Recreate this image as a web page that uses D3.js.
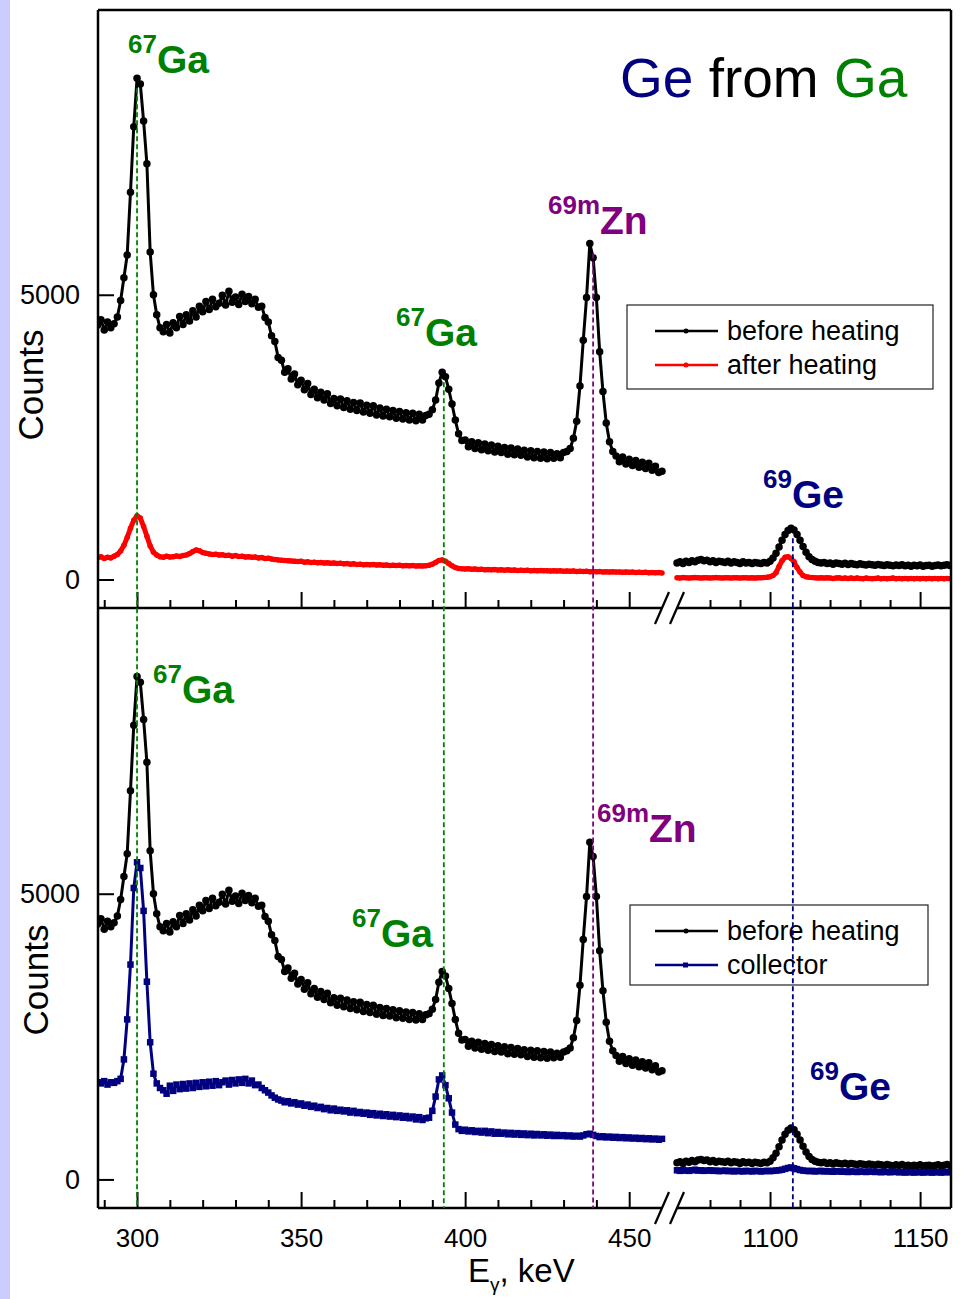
<!DOCTYPE html>
<html>
<head>
<meta charset="utf-8">
<script src="https://cdn.jsdelivr.net/npm/d3@7"></script>
<style>
  body { margin: 0; background: #fff; }
  svg { display: block; font-family: "Liberation Sans", Arial, sans-serif; }
</style>
</head>
<body>
<div id="chart"></div>
<script>
// Energy of the first channel of each window (keV), one channel per keV
const leftStart = 288;
const rightStart = 1069;

// "before heating" spectrum, 288..460 keV
const beforeLeft = [
  4470, 4560, 4380, 4520, 4420, 4490, 4610, 4900, 5300, 5700,
  6800, 7950, 8800, 8700, 8050, 7300, 5750, 5000, 4650, 4420,
  4350, 4480, 4330, 4510, 4420, 4620, 4480, 4650, 4540, 4720,
  4610, 4800, 4700, 4880, 4740, 4920, 4790, 4850, 4990, 4820,
  5060, 4870, 4960, 4830, 5010, 4880, 4970, 4840, 4920, 4780,
  4800, 4600, 4520, 4280, 4180, 3900, 3850, 3640, 3700, 3520,
  3610, 3420, 3500, 3330, 3440, 3250, 3340, 3190, 3290, 3150,
  3260, 3090, 3180, 3050, 3170, 3020, 3140, 2990, 3110, 2970,
  3100, 2940, 3060, 2920, 3050, 2890, 3010, 2870, 2990, 2860,
  2970, 2830, 2950, 2820, 2930, 2800, 2920, 2790, 2900, 2800,
  2880, 2900, 2980, 3150, 3450, 3640, 3560, 3340, 3080, 2800,
  2560, 2440, 2450, 2330, 2420, 2300, 2400, 2280, 2380, 2260,
  2360, 2240, 2340, 2230, 2320, 2200, 2310, 2190, 2290, 2180,
  2270, 2150, 2260, 2140, 2250, 2130, 2240, 2120, 2230, 2130,
  2210, 2140, 2230, 2250, 2300, 2480, 2780, 3400, 4200, 4950,
  5900, 5650, 4950, 4000, 3300, 2750, 2420, 2250, 2170, 2070,
  2150, 2030, 2110, 2000, 2090, 1970, 2060, 1950, 2040, 1920,
  1990, 1880, 1900
];

// "after heating" spectrum, 288..460 keV
const afterLeft = [
  380, 400, 370, 390, 380, 410, 440, 500, 600, 740,
  900, 1040, 1120, 1080, 930, 760, 590, 480, 430, 400,
  390, 410, 395, 400, 415, 405, 420, 430, 455, 490,
  520, 505, 475, 460, 450, 440, 445, 430, 435, 420,
  425, 410, 420, 405, 410, 395, 400, 390, 395, 380,
  385, 370, 375, 360, 350, 345, 340, 335, 330, 325,
  320, 315, 320, 305, 310, 300, 305, 295, 300, 290,
  295, 285, 290, 280, 285, 275, 280, 270, 275, 265,
  270, 260, 265, 258, 262, 255, 258, 250, 255, 248,
  252, 245, 250, 243, 247, 240, 245, 238, 242, 236,
  240, 250, 270, 300, 335, 345, 320, 280, 240, 210,
  195, 190, 185, 190, 180, 185, 175, 180, 172, 176,
  170, 174, 168, 172, 165, 170, 163, 167, 160, 165,
  158, 162, 156, 160, 154, 158, 152, 156, 150, 154,
  148, 152, 146, 150, 144, 148, 142, 146, 140, 144,
  138, 142, 136, 140, 134, 138, 132, 136, 130, 134,
  128, 132, 126, 130, 124, 128, 122, 126, 120, 124,
  118, 122, 115
];

// "collector" spectrum, 288..460 keV
const collectorLeft = [
  1700, 1680, 1720, 1660, 1700, 1690, 1720, 1760, 2100, 2800,
  3760, 5100, 5550, 5450, 4700, 3460, 2400, 1850, 1680, 1600,
  1560, 1500, 1640, 1550, 1660, 1580, 1670, 1590, 1680, 1600,
  1690, 1620, 1700, 1630, 1710, 1640, 1720, 1650, 1700, 1730,
  1660, 1740, 1680, 1750, 1690, 1760, 1680, 1730, 1650, 1660,
  1600, 1560, 1520, 1470, 1430, 1400, 1380, 1350, 1370, 1330,
  1350, 1310, 1330, 1290, 1310, 1270, 1290, 1250, 1270, 1230,
  1250, 1210, 1240, 1200, 1220, 1190, 1210, 1170, 1200, 1160,
  1180, 1150, 1170, 1130, 1160, 1120, 1150, 1110, 1140, 1100,
  1130, 1090, 1120, 1080, 1110, 1070, 1100, 1050, 1090, 1040,
  1070, 1080, 1200, 1450, 1750, 1820, 1650, 1420, 1170, 960,
  880, 850, 870, 840, 860, 830, 850, 820, 850, 810,
  840, 800, 830, 800, 820, 790, 815, 785, 810, 780,
  805, 775, 800, 770, 795, 770, 790, 765, 785, 760,
  780, 760, 775, 755, 770, 750, 765, 750, 770, 790,
  800, 780, 760, 740, 755, 735, 750, 730, 745, 725,
  740, 720, 735, 715, 730, 710, 725, 705, 720, 700,
  715, 695, 710
];

// high-energy window, 1069..1160 keV
const beforeRight = [
  290, 310, 280, 320, 300, 330, 310, 340, 350, 330,
  340, 310, 330, 300, 320, 310, 300, 320, 290, 310,
  300, 280, 310, 290, 300, 280, 300, 290, 280, 300,
  290, 320, 380, 460, 570, 690, 790, 860, 900, 870,
  790, 690, 580, 480, 400, 350, 320, 300, 290, 300,
  280, 290, 270, 290, 280, 270, 285, 265, 280, 270,
  260, 275, 265, 255, 270, 260, 250, 265, 255, 245,
  260, 250, 240, 255, 245, 260, 240, 250, 235, 250,
  240, 255, 235, 245, 250, 235, 245, 255, 240, 250,
  260, 245
];

const afterRight = [
  30, 25, 35, 30, 25, 30, 35, 30, 25, 30,
  30, 25, 30, 35, 30, 25, 30, 30, 25, 30,
  30, 25, 30, 30, 25, 30, 25, 30, 30, 35,
  40, 50, 70, 120, 230, 330, 390, 400, 370, 310,
  210, 130, 70, 50, 40, 35, 30, 25, 30, 25,
  30, 25, 20, 25, 30, 20, 25, 20, 25, 20,
  25, 20, 15, 25, 20, 15, 20, 25, 15, 20,
  15, 20, 25, 15, 20, 15, 20, 15, 20, 15,
  20, 15, 20, 15, 20, 15, 20, 15, 20, 15,
  20, 15
];

const collectorRight = [
  160, 150, 165, 155, 150, 160, 170, 155, 160, 150,
  155, 160, 150, 155, 145, 150, 155, 145, 150, 140,
  150, 145, 140, 150, 145, 140, 150, 145, 140, 145,
  150, 145, 150, 155, 160, 170, 185, 200, 210, 195,
  180, 165, 155, 150, 145, 150, 140, 145, 150, 140,
  145, 140, 135, 145, 140, 135, 140, 130, 140, 135,
  130, 140, 135, 130, 140, 135, 130, 135, 125, 135,
  130, 125, 135, 130, 125, 130, 120, 130, 125, 120,
  130, 125, 120, 130, 125, 120, 125, 130, 120, 125,
  130, 125
];

// Axis ticks
const xMajorLeft = [300, 350, 400, 450];
const xMajorRight = [1100, 1150];
const yTicks = [0, 5000];

// Gamma lines marked with dashed verticals
const peakEnergies = [300.0, 393.5, 439.0, 1107.6];

const green = "#008000";
const purple = "#800080";
const navy = "#000080";

const frame = { left: 98, right: 951, top: 10, mid: 608, bottom: 1208 };
const leftEnd = 662;
const rightBegin = 677;

const svg = d3.select("#chart")
  .append("svg")
  .attr("width", 967)
  .attr("height", 1299);

svg.append("rect")
  .attr("width", 967).attr("height", 1299)
  .attr("fill", "#fff");

// lavender strip on the left edge
svg.append("rect")
  .attr("x", 0).attr("y", 0)
  .attr("width", 10).attr("height", 1299)
  .attr("fill", "#ccccff");

// Broken x axis: two linear scales
const xLeft = d3.scaleLinear().domain([288.1, 460]).range([frame.left, leftEnd]);
const xRight = d3.scaleLinear().domain([1069, 1160.3]).range([rightBegin, frame.right]);

const toPoints = (values, start) => values.map((c, i) => [start + i, c]);

class SpectrumPanel {
  constructor(_config) {
    this.config = _config;
    this.initVis();
  }

  initVis() {
    let vis = this;

    vis.yScale = d3.scaleLinear()
      .domain([-500, 10000])
      .range([vis.config.bottom, vis.config.top]);

    vis.g = svg.append("g");

    vis.g.append("clipPath")
      .attr("id", vis.config.id)
      .append("rect")
      .attr("x", frame.left)
      .attr("y", vis.config.top)
      .attr("width", frame.right - frame.left)
      .attr("height", vis.config.bottom - vis.config.top);

    vis.plot = vis.g.append("g").attr("clip-path", `url(#${vis.config.id})`);

    vis.renderVis();
  }

  renderVis() {
    let vis = this;

    vis.config.series.forEach((s) => {
      [[xLeft, toPoints(s.left, leftStart)], [xRight, toPoints(s.right, rightStart)]]
        .forEach(([x, pts]) => {
          const line = d3.line()
            .x((d) => x(d[0]))
            .y((d) => vis.yScale(d[1]));

          vis.plot.append("path")
            .datum(pts)
            .attr("fill", "none")
            .attr("stroke", s.color)
            .attr("stroke-width", s.width)
            .attr("stroke-linejoin", "round")
            .attr("d", line);

          if (s.marker === "square") {
            vis.plot.selectAll(null)
              .data(pts)
              .join("rect")
              .attr("x", (d) => x(d[0]) - s.size / 2)
              .attr("y", (d) => vis.yScale(d[1]) - s.size / 2)
              .attr("width", s.size)
              .attr("height", s.size)
              .attr("fill", s.color);
          } else {
            vis.plot.selectAll(null)
              .data(pts)
              .join("circle")
              .attr("cx", (d) => x(d[0]))
              .attr("cy", (d) => vis.yScale(d[1]))
              .attr("r", s.size / 2)
              .attr("fill", s.color);
          }
        });
    });

    // y axis ticks and labels
    const yAxis = d3.axisLeft(vis.yScale)
      .tickValues(yTicks)
      .tickSize(-16)
      .tickPadding(18)
      .tickFormat(d3.format("d"));

    const yAxisGroup = vis.g.append("g")
      .attr("transform", `translate(${frame.left},0)`)
      .call(yAxis);
    yAxisGroup.select(".domain").remove();
    yAxisGroup.selectAll("line").attr("stroke-width", 2);
    yAxisGroup.selectAll("text")
      .attr("font-size", 27)
      .attr("font-family", "Liberation Sans, Arial, sans-serif")
      .attr("fill", "#000");

    // x axis ticks (inward), labels only on lowest panel
    const bottomY = vis.config.bottom;
    const addTicks = (scale, majors, minors) => {
      const major = d3.axisBottom(scale)
        .tickValues(majors)
        .tickSize(-16)
        .tickPadding(21)
        .tickFormat(vis.config.showLabels ? d3.format("d") : "");
      const minor = d3.axisBottom(scale)
        .tickValues(minors)
        .tickSize(-8)
        .tickFormat("");

      [major, minor].forEach((ax) => {
        const grp = vis.g.append("g")
          .attr("transform", `translate(0,${bottomY})`)
          .call(ax);
        grp.select(".domain").remove();
        grp.selectAll("line").attr("stroke-width", 2);
        grp.selectAll("text")
          .attr("font-size", 26)
          .attr("font-family", "Liberation Sans, Arial, sans-serif")
          .attr("fill", "#000");
      });
    };
    addTicks(xLeft, xMajorLeft, d3.range(290, 450, 10).filter((t) => !xMajorLeft.includes(t)));
    addTicks(xRight, xMajorRight, d3.range(1080, 1150, 10).filter((t) => !xMajorRight.includes(t)));

    // axis line with break marks
    const axisLine = vis.g.append("g").attr("stroke", "#000").attr("stroke-width", 2.5);
    axisLine.append("line")
      .attr("x1", frame.left).attr("x2", leftEnd)
      .attr("y1", bottomY).attr("y2", bottomY);
    axisLine.append("line")
      .attr("x1", rightBegin).attr("x2", frame.right)
      .attr("y1", bottomY).attr("y2", bottomY);
    [leftEnd, rightBegin].forEach((bx) => {
      axisLine.append("line")
        .attr("x1", bx - 7).attr("y1", bottomY + 16)
        .attr("x2", bx + 7).attr("y2", bottomY - 16)
        .attr("stroke-width", 2.2);
    });

    // y axis title
    vis.g.append("text")
      .attr("transform", `translate(${vis.config.titleX},${vis.config.titleY}) rotate(-90)`)
      .attr("text-anchor", "middle")
      .attr("font-size", 35)
      .text("Counts");

    // legend
    const lg = vis.config.legend;
    vis.g.append("rect")
      .attr("x", lg.x).attr("y", lg.y)
      .attr("width", lg.w).attr("height", lg.h)
      .attr("fill", "#fff")
      .attr("stroke", "#222")
      .attr("stroke-width", 1.2);
    lg.items.forEach((it, i) => {
      const ly = lg.y + 26 + i * 34;
      vis.g.append("line")
        .attr("x1", 655).attr("x2", 718)
        .attr("y1", ly).attr("y2", ly)
        .attr("stroke", it.color)
        .attr("stroke-width", 2.5);
      if (it.marker === "square") {
        vis.g.append("rect")
          .attr("x", 683).attr("y", ly - 2.5)
          .attr("width", 5).attr("height", 5)
          .attr("fill", it.color);
      } else {
        vis.g.append("circle")
          .attr("cx", 686).attr("cy", ly).attr("r", 2.5)
          .attr("fill", it.color);
      }
      vis.g.append("text")
        .attr("x", 727).attr("y", ly + 9)
        .attr("font-size", 27)
        .text(it.label);
    });

    // isotope labels
    vis.config.labels.forEach((lb) => {
      const t = vis.g.append("text")
        .attr("x", lb.x).attr("y", lb.y)
        .attr("fill", lb.color)
        .attr("font-weight", "bold");
      t.append("tspan").attr("font-size", 26).attr("dy", -20).text(lb.sup);
      t.append("tspan").attr("font-size", 39).attr("dy", 20).text(lb.name);
    });
  }
}

const topPanel = new SpectrumPanel({
  id: "clipTop",
  top: frame.top,
  bottom: frame.mid,
  showLabels: false,
  titleX: 43,
  titleY: 385,
  series: [
    { left: beforeLeft, right: beforeRight, color: "#000", width: 3, marker: "circle", size: 7.5 },
    { left: afterLeft, right: afterRight, color: "#ff0000", width: 5, marker: "circle", size: 5.5 },
  ],
  legend: {
    x: 627, y: 305, w: 306, h: 84,
    items: [
      { label: "before heating", color: "#000", marker: "circle" },
      { label: "after heating", color: "#ff0000", marker: "circle" },
    ],
  },
  labels: [
    { x: 128, y: 73, sup: "67", name: "Ga", color: green },
    { x: 396, y: 346, sup: "67", name: "Ga", color: green },
    { x: 548, y: 234, sup: "69m", name: "Zn", color: purple },
    { x: 763, y: 508, sup: "69", name: "Ge", color: navy },
  ],
});

const bottomPanel = new SpectrumPanel({
  id: "clipBottom",
  top: frame.mid,
  bottom: frame.bottom,
  showLabels: true,
  titleX: 48,
  titleY: 980,
  series: [
    { left: beforeLeft, right: beforeRight, color: "#000", width: 3, marker: "circle", size: 7.5 },
    { left: collectorLeft, right: collectorRight, color: navy, width: 3, marker: "square", size: 6.5 },
  ],
  legend: {
    x: 630, y: 905, w: 298, h: 80,
    items: [
      { label: "before heating", color: "#000", marker: "circle" },
      { label: "collector", color: navy, marker: "square" },
    ],
  },
  labels: [
    { x: 153, y: 703, sup: "67", name: "Ga", color: green },
    { x: 352, y: 947, sup: "67", name: "Ga", color: green },
    { x: 597, y: 842, sup: "69m", name: "Zn", color: purple },
    { x: 810, y: 1100, sup: "69", name: "Ge", color: navy },
  ],
});

// Dashed markers of the gamma lines, from the top-panel peak down to the lower axis
const lineColors = [green, green, purple, navy];
peakEnergies.forEach((e, i) => {
  const right = e > 1000;
  const x = right ? xRight : xLeft;
  const values = right ? beforeRight : beforeLeft;
  const start = right ? rightStart : leftStart;
  const near = values.filter((c, j) => Math.abs(start + j - e) <= 1);
  const yPeak = topPanel.yScale(d3.max(near));
  svg.append("line")
    .attr("x1", x(e)).attr("x2", x(e))
    .attr("y1", yPeak + 10).attr("y2", frame.bottom)
    .attr("stroke", lineColors[i])
    .attr("stroke-width", 1.8)
    .attr("stroke-dasharray", "5,3");
});

// Frame: left, right and top edges
const frameGroup = svg.append("g").attr("stroke", "#000").attr("stroke-width", 2.5);
frameGroup.append("line")
  .attr("x1", frame.left).attr("x2", frame.left)
  .attr("y1", frame.top).attr("y2", frame.bottom);
frameGroup.append("line")
  .attr("x1", frame.right).attr("x2", frame.right)
  .attr("y1", frame.top).attr("y2", frame.bottom);
frameGroup.append("line")
  .attr("x1", frame.left).attr("x2", frame.right)
  .attr("y1", frame.top).attr("y2", frame.top);

// Title
const title = svg.append("text")
  .attr("x", 620).attr("y", 97)
  .attr("font-size", 55);
title.append("tspan").attr("fill", navy).text("Ge");
title.append("tspan").attr("fill", "#000").text(" from ");
title.append("tspan").attr("fill", green).text("Ga");

// x axis title
const xTitle = svg.append("text")
  .attr("x", 468).attr("y", 1282)
  .attr("font-size", 33);
xTitle.append("tspan").text("E");
xTitle.append("tspan").attr("font-size", 19).attr("dy", 9).text("γ");
xTitle.append("tspan").attr("dy", -9).text(", keV");
</script>
</body>
</html>
